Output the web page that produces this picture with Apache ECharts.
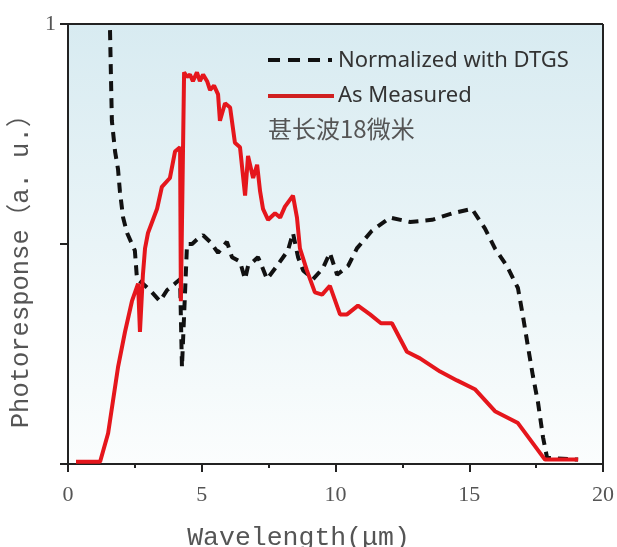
<!DOCTYPE html>
<html>
<head>
<meta charset="utf-8">
<script src="https://cdn.jsdelivr.net/npm/echarts@6/dist/echarts.min.js"></script>
<style>
html,body{margin:0;padding:0;background:#fff;}
#chart{width:617px;height:547px;}
</style>
</head>
<body>
<div id="chart"></div>
<script>
// Wavelength (µm) and photoresponse (a.u.)
const measuredX = [0.3,1.2,1.5,1.87,2.13,2.39,2.62,2.69,2.8,2.88,2.99,3.33,3.51,3.81,4.0,4.19,4.22,4.34,4.45,4.56,4.67,4.82,4.93,5.05,5.2,5.31,5.46,5.61,5.68,5.87,6.06,6.24,6.43,6.62,6.73,6.92,7.07,7.18,7.29,7.48,7.74,7.93,8.11,8.41,8.56,8.67,8.93,9.23,9.5,9.79,10.17,10.43,10.84,11.29,11.7,12.11,12.67,13.16,13.91,14.54,15.21,15.96,16.82,17.83,19.07];
const measuredY = [0.005,0.005,0.07,0.22,0.3,0.37,0.41,0.3,0.43,0.49,0.525,0.58,0.63,0.65,0.71,0.72,0.37,0.89,0.88,0.885,0.87,0.89,0.87,0.885,0.87,0.85,0.86,0.84,0.78,0.82,0.81,0.73,0.72,0.61,0.7,0.65,0.68,0.62,0.58,0.555,0.57,0.56,0.585,0.61,0.56,0.49,0.44,0.39,0.385,0.405,0.34,0.34,0.36,0.34,0.32,0.32,0.255,0.24,0.21,0.19,0.17,0.12,0.093,0.01,0.01];

const normX = [1.57,1.64,1.76,1.87,1.94,2.06,2.21,2.5,2.58,2.8,3.14,3.44,3.7,4.0,4.19,4.26,4.45,4.64,4.82,5.05,5.31,5.61,5.94,6.13,6.43,6.62,6.73,6.92,7.1,7.18,7.44,7.81,8.22,8.41,8.6,8.79,9.16,9.53,9.79,10.06,10.47,10.8,11.36,12.04,12.79,13.61,14.39,15.1,15.59,15.96,16.41,16.82,17.01,17.2,17.38,17.57,17.76,17.91,19.07];
const normY = [0.986,0.78,0.71,0.67,0.62,0.56,0.525,0.485,0.42,0.41,0.39,0.37,0.395,0.41,0.42,0.22,0.5,0.5,0.51,0.52,0.505,0.48,0.505,0.47,0.46,0.42,0.45,0.46,0.47,0.46,0.42,0.45,0.485,0.525,0.47,0.44,0.42,0.445,0.48,0.43,0.45,0.49,0.53,0.56,0.55,0.555,0.57,0.58,0.535,0.49,0.45,0.4,0.335,0.265,0.2,0.14,0.06,0.014,0.01];

const xTicks = [0,5,10,15,20];
const yTickLabels = {1:'1'};
const seriesNames = ['Normalized with DTGS','As Measured'];
const annotation = '甚长波18微米';

const pair = (xs, ys) => xs.map((x,i)=>[x, ys[i]]);

const chart = echarts.init(document.getElementById('chart'), null, {renderer:'canvas'});
const axisColor = '#222';
const redColor = '#e5161c';
const blackColor = '#111';
const legendFont = 'Noto Sans, Open Sans, sans-serif';
chart.setOption({
  animation:false,
  backgroundColor:'#ffffff',
  grid:{
    left:68, right:14, top:24, bottom:83, show:true,
    containLabel:false, outerBoundsMode:'none',
    borderWidth:0,
    backgroundColor:{type:'linear',x:0,y:0,x2:0,y2:1,colorStops:[
      {offset:0,color:'#d8ebf1'},{offset:0.5,color:'#e9f4f7'},{offset:1,color:'#fbfdfd'}]}
  },
  graphic:[
    {type:'line', shape:{x1:268,y1:60,x2:332,y2:60}, style:{stroke:blackColor, lineWidth:4, lineDash:[12,8]}, z:10},
    {type:'text', left:338, top:50, style:{text:seriesNames[0], fontFamily:legendFont, fontSize:22, fill:'#333'}, z:10},
    {type:'line', shape:{x1:268,y1:96,x2:334,y2:96}, style:{stroke:'#d02020', lineWidth:4}, z:10},
    {type:'text', left:338, top:85, style:{text:seriesNames[1], fontFamily:legendFont, fontSize:22, fill:'#333'}, z:10},
    {type:'text', left:268, top:117, style:{text:annotation, fontFamily:'Noto Sans CJK SC, sans-serif', fontSize:24, fill:'#555'}, z:10},
    {type:'line', shape:{x1:68,y1:24,x2:603,y2:24}, style:{stroke:axisColor, lineWidth:2}},
    {type:'line', shape:{x1:603,y1:24,x2:603,y2:464}, style:{stroke:axisColor, lineWidth:2}}
  ],
  xAxis:{
    type:'value', min:0, max:20, interval:5,
    name:'Wavelength(μm)', nameLocation:'middle', nameGap:61,
    nameTextStyle:{fontFamily:'Liberation Mono, Noto Sans CJK SC, monospace', fontSize:26.5, color:'#555', padding:[0,74,0,0]},
    axisLine:{show:true, lineStyle:{color:axisColor, width:2}},
    axisTick:{show:true, inside:false, length:8, lineStyle:{color:axisColor, width:2}},
    minorTick:{show:true, splitNumber:2, length:4, lineStyle:{color:axisColor, width:2}},
    splitLine:{show:false},
    axisLabel:{margin:20, fontFamily:'Liberation Serif, serif', fontSize:22, color:'#555',
      formatter:v => xTicks.includes(v) ? String(v) : ''}
  },
  yAxis:{
    type:'value', min:0, max:1, interval:0.5,
    name:'Photoresponse（a. u.）', nameLocation:'middle', nameGap:30, nameRotate:90,
    nameTextStyle:{fontFamily:'Liberation Mono, Noto Sans CJK SC, monospace', fontSize:25.5, color:'#555', padding:[0,42,0,0]},
    axisLine:{show:true, lineStyle:{color:axisColor, width:2}},
    axisTick:{show:true, inside:false, length:8, lineStyle:{color:axisColor, width:2}},
    splitLine:{show:false},
    axisLabel:{margin:12, fontFamily:'Liberation Serif, serif', fontSize:22, color:'#555',
      formatter:v => yTickLabels[v] || ''}
  },
  series:[
    {name:seriesNames[0], type:'line', data:pair(normX, normY), showSymbol:false, symbol:'none',
      lineStyle:{color:blackColor, width:4, type:[10,7]}, itemStyle:{color:blackColor}, z:3},
    {name:seriesNames[1], type:'line', data:pair(measuredX, measuredY), showSymbol:false, symbol:'none',
      lineStyle:{color:redColor, width:4}, itemStyle:{color:redColor}, z:4}
  ]
});
</script>
</body>
</html>
